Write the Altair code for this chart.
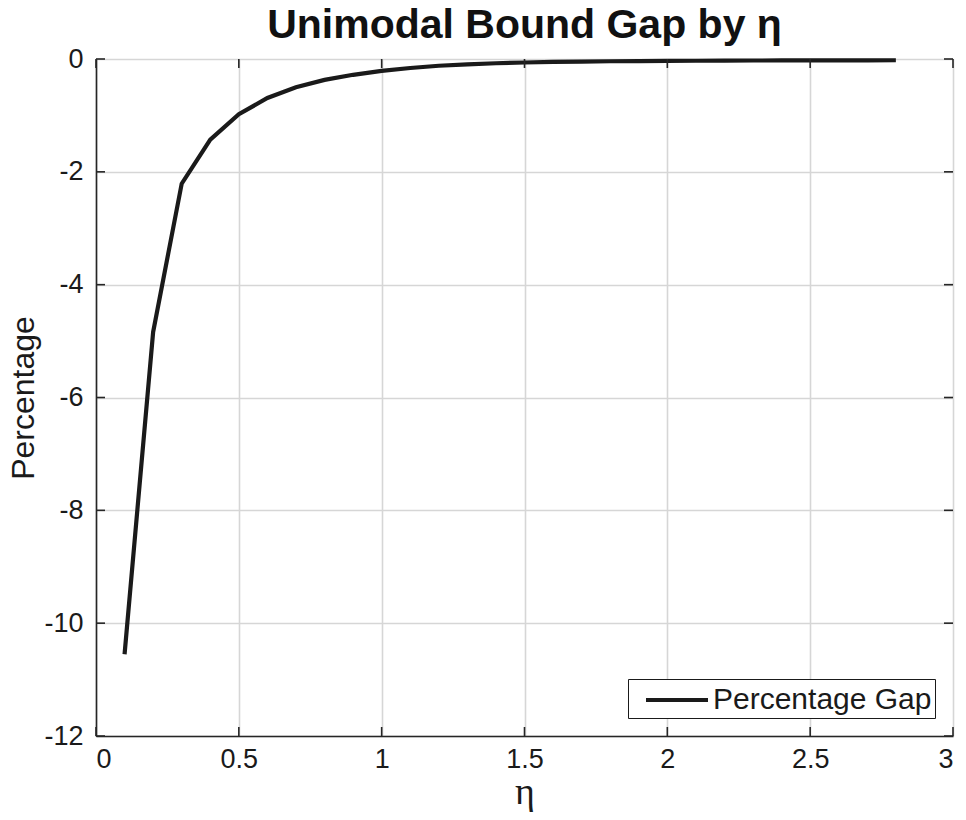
import altair as alt
import pandas as pd

eta = [0.1, 0.2, 0.3, 0.4, 0.5, 0.6, 0.7, 0.8, 0.9, 1.0,
       1.1, 1.2, 1.3, 1.4, 1.5, 1.6, 1.7, 1.8, 1.9, 2.0,
       2.1, 2.2, 2.3, 2.4, 2.5, 2.6, 2.7, 2.8]
gap = [-10.55, -4.84, -2.21, -1.43, -0.98, -0.69, -0.50, -0.37, -0.28, -0.21,
       -0.16, -0.12, -0.095, -0.075, -0.062, -0.052, -0.045, -0.040, -0.036, -0.033,
       -0.031, -0.029, -0.027, -0.026, -0.025, -0.024, -0.023, -0.022]
x_ticks = [0, 0.5, 1, 1.5, 2, 2.5, 3]
y_ticks = [0, -2, -4, -6, -8, -10, -12]
series_name = "Percentage Gap"

W, H = 857, 677
TICK = 9
FONT = "Liberation Sans"

df = pd.DataFrame({"eta": eta, "gap": gap, "series": series_name})
xt = pd.DataFrame({"x": x_ticks})
yt = pd.DataFrame({"y": y_ticks})

xscale = alt.Scale(domain=[0, 3], nice=False, zero=False)
yscale = alt.Scale(domain=[-12, 0], nice=False, zero=False)

xaxis = alt.Axis(values=x_ticks, labelExpr="toString(datum.value)", ticks=False, labelPadding=10,
                 labelFontSize=27, labelFont=FONT, labelColor="#1a1a1a",
                 titlePadding=1, titleFontSize=38, titleFont="Liberation Serif",
                 titleFontWeight="normal", titleColor="#1a1a1a",
                 domainColor="#262626", domainWidth=1.6,
                 gridColor="#d6d6d6", gridWidth=1.6, grid=True)
yaxis = alt.Axis(values=y_ticks, labelExpr="toString(datum.value)", ticks=False, labelPadding=13,
                 labelFontSize=27, labelFont=FONT, labelColor="#1a1a1a",
                 titlePadding=3, titleFontSize=32, titleFont=FONT,
                 titleFontWeight="normal", titleColor="#1a1a1a",
                 domainColor="#262626", domainWidth=1.6,
                 gridColor="#d6d6d6", gridWidth=1.6, grid=True)

line = alt.Chart(df).mark_line(strokeWidth=4.2, strokeCap="butt", strokeJoin="miter").encode(
    x=alt.X("eta:Q", scale=xscale, title="η", axis=xaxis),
    y=alt.Y("gap:Q", scale=yscale, title="Percentage", axis=yaxis),
    color=alt.Color("series:N", scale=alt.Scale(range=["#1a1a1a"]),
                    legend=alt.Legend(title=None, orient="bottom-right", offset=18,
                                      symbolType="M-2,0H2", symbolStrokeWidth=4.2,
                                      symbolSize=961, labelFontSize=30, labelFont=FONT,
                                      labelColor="#1a1a1a", strokeColor="#1a1a1a",
                                      fillColor="#ffffff", padding=3, labelOffset=18,
                                      labelLimit=500, symbolOffset=28)),
)

tick_style = dict(color="#262626", strokeWidth=1.6)
xb = alt.Chart(xt).mark_rule(**tick_style).encode(
    x=alt.X("x:Q", scale=xscale, title="η", axis=xaxis), y=alt.value(H), y2=alt.value(H - TICK))
xtop = alt.Chart(xt).mark_rule(**tick_style).encode(
    x=alt.X("x:Q", scale=xscale, title="η", axis=xaxis), y=alt.value(0), y2=alt.value(TICK))
yl = alt.Chart(yt).mark_rule(**tick_style).encode(
    y=alt.Y("y:Q", scale=yscale, title="Percentage", axis=yaxis), x=alt.value(0), x2=alt.value(TICK))
yr = alt.Chart(yt).mark_rule(**tick_style).encode(
    y=alt.Y("y:Q", scale=yscale, title="Percentage", axis=yaxis), x=alt.value(W), x2=alt.value(W - TICK))

chart = alt.layer(line, xb, xtop, yl, yr).properties(
    width=W, height=H,
    title=alt.Title("Unimodal Bound Gap by η", fontSize=41, font=FONT, fontWeight="bold",
                    color="#111111", anchor="middle", offset=7, dy=9),
    autosize=alt.AutoSizeParams(type="none"),
    padding={"left": 88, "top": 51, "right": 5, "bottom": 76},
).configure_view(
    fill="#fcfcfa", stroke="#262626", strokeWidth=1.6
).configure(background="#ffffff")

chart.save("out.html", embed_options={"renderer": "svg", "actions": False})
